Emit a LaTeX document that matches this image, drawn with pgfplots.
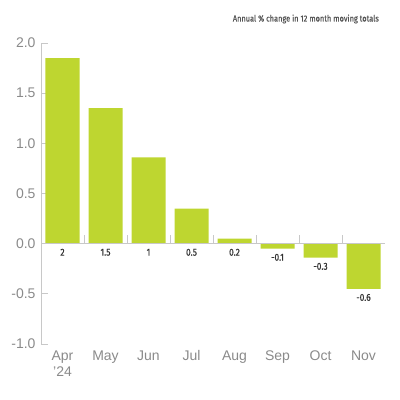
\documentclass[border=0pt]{standalone}
\usepackage{fontspec}
\setmainfont{Liberation Sans}
\newfontfamily\cond[FakeStretch=0.84]{Fira Sans}
\newfontfamily\condb[FakeStretch=0.84, FakeBold=0.6]{Fira Sans}
\usepackage{pgfplots}
\pgfplotsset{compat=1.18}
\definecolor{barcol}{HTML}{BED630}
\definecolor{axcol}{HTML}{C8C8C8}
\definecolor{tickcol}{HTML}{8A8A8A}
\definecolor{labcol}{HTML}{333333}
\begin{document}
\begin{tikzpicture}
\path (0,0) rectangle (400bp,400bp);
\node[anchor=east, font=\condb\fontsize{8.8bp}{10bp}\selectfont, text=labcol!85, inner sep=0pt]
  at (379bp,381bp) {Annual \% change in 12 month moving totals};
\begin{axis}[
    at={(41bp,56bp)}, anchor=south west,
    scale only axis,
    width=344bp, height=301bp,
    xmin=-0.5, xmax=7.5,
    ymin=-1, ymax=2,
    axis lines*=left,
    x axis line style={draw=none},
    y axis line style={axcol, line width=0.8pt},
    ytick={-1,-0.5,0,0.5,1,1.5,2},
    yticklabel style={/pgf/number format/fixed, /pgf/number format/fixed zerofill,
        /pgf/number format/precision=1, xshift=-2bp},
    ytick style={axcol, line width=0.8pt},
    tick align=inside,
    major tick length=7bp,
    xtick={0,...,7},
    xtick style={draw=none},
    xticklabels={Apr\\'24, May, Jun, Jul, Aug, Sep, Oct, Nov},
    xticklabel style={align=center, yshift=-3bp, font=\fontsize{14bp}{16bp}\selectfont, text=tickcol},
    yticklabel style={font=\fontsize{14bp}{16bp}\selectfont, text=tickcol},
    /pgf/number format/assume math mode=true,
    clip=false,
]
\addplot[ybar, bar width=34bp, fill=barcol, draw=none]
  coordinates {(0,1.85) (1,1.35) (2,0.86) (3,0.35) (4,0.05) (5,-0.05) (6,-0.14) (7,-0.45)};
% zero line and separators
\draw[axcol, line width=0.8pt] (axis cs:-0.5,0) -- (axis cs:7.5,0);
\pgfplotsinvokeforeach{0.5,1.5,2.5,3.5,4.5,5.5,6.5}{
  \draw[axcol, line width=0.6pt] (axis cs:#1,0) -- (axis cs:#1,0.09);
}
\addplot[draw=none, mark=none,
    nodes near coords, point meta=explicit symbolic,
    every node near coord/.style={anchor=north, yshift=-4bp, inner sep=1bp,
        font=\condb\fontsize{10bp}{11bp}\selectfont, text=labcol}]
  coordinates {(0,0)[2] (1,0)[1.5] (2,0)[1] (3,0)[0.5] (4,0)[0.2]
               (5,-0.05)[-0.1] (6,-0.14)[-0.3] (7,-0.45)[-0.6]};
\end{axis}
\end{tikzpicture}
\end{document}
